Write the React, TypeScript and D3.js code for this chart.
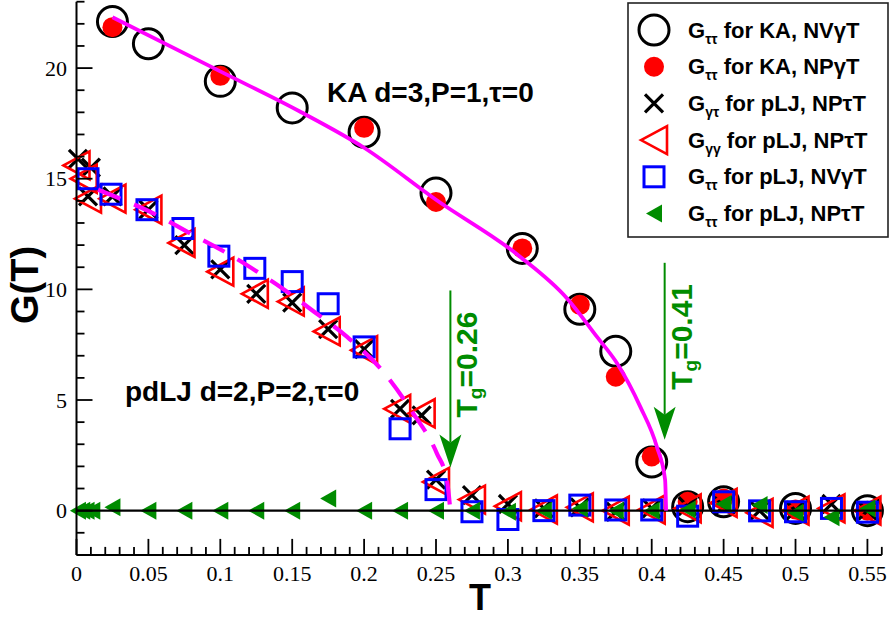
import { useEffect, useRef } from 'react';
import * as d3 from 'd3';

// KA system, G_tautau
const kaNVgT = [[0.025, 22.1], [0.05, 21.1], [0.1, 19.4], [0.15, 18.2], [0.2, 17.1], [0.25, 14.35], [0.31, 11.85], [0.35, 9.1], [0.375, 7.2], [0.4, 2.2], [0.425, 0.18], [0.45, 0.4], [0.5, 0.1], [0.55, 0.0]];
const kaNPgT = [[0.025, 21.85], [0.1, 19.65], [0.2, 17.3], [0.25, 13.95], [0.31, 11.85], [0.35, 9.3], [0.375, 6.05], [0.4, 2.45], [0.425, 0.4], [0.45, 0.55], [0.5, 0.05], [0.55, 0.0]];

// pLJ system
const pljGyt = [[0.001, 15.9], [0.01, 15.5], [0.008, 14.2], [0.025, 14.2], [0.05, 13.6], [0.075, 12.0], [0.1, 10.9], [0.125, 9.8], [0.15, 9.4], [0.175, 8.2], [0.2, 7.3], [0.225, 4.6], [0.24, 4.3], [0.25, 1.4], [0.275, 0.7], [0.3, 0.3], [0.325, 0.1], [0.35, 0.15], [0.375, -0.05], [0.4, 0.1], [0.425, 0.2], [0.45, 0.2], [0.475, 0.0], [0.5, 0.0], [0.525, 0.3], [0.55, 0.0]];
const pljGyy = [[0.0, 15.6], [0.005, 15.0], [0.008, 14.1], [0.025, 14.1], [0.05, 13.6], [0.073, 12.1], [0.1, 10.8], [0.124, 9.8], [0.149, 9.45], [0.174, 8.1], [0.2, 7.25], [0.223, 4.6], [0.24, 4.4], [0.25, 1.3], [0.275, 0.5], [0.3, 0.2], [0.325, 0.05], [0.35, 0.15], [0.375, 0.0], [0.4, 0.05], [0.425, 0.1], [0.45, 0.35], [0.475, -0.1], [0.5, 0.0], [0.525, 0.1], [0.55, 0.0]];
const pljNVgT = [[0.008, 15.0], [0.024, 14.3], [0.049, 13.6], [0.074, 12.75], [0.099, 11.5], [0.124, 10.95], [0.15, 10.35], [0.175, 9.35], [0.2, 7.4], [0.225, 3.7], [0.25, 0.95], [0.275, -0.05], [0.3, -0.4], [0.325, 0.0], [0.35, 0.25], [0.375, 0.03], [0.4, 0.03], [0.425, -0.25], [0.45, 0.4], [0.475, -0.01], [0.5, -0.05], [0.525, 0.1], [0.55, -0.07]];
const pljNPtT = [[0.001, 0.0], [0.004, 0.0], [0.007, 0.0], [0.011, 0.0], [0.025, 0.15], [0.05, 0.0], [0.075, 0.0], [0.1, 0.0], [0.125, 0.0], [0.15, 0.0], [0.175, 0.55], [0.2, 0.0], [0.225, 0.0], [0.25, 0.0], [0.275, 0.0], [0.3, -0.05], [0.325, 0.0], [0.35, 0.1], [0.375, 0.0], [0.4, 0.0], [0.425, 0.05], [0.45, 0.3], [0.475, 0.25], [0.5, -0.1], [0.525, -0.3], [0.55, 0.1]];

// fitted curves
const kaFit = [[0.025, 22.3], [0.1, 19.85], [0.155, 18.05], [0.2, 16.4], [0.25, 14.05], [0.308, 11.5], [0.341, 9.6], [0.362, 7.85], [0.376, 6.65], [0.392, 4.7], [0.4035, 2.9], [0.4093, 1.4], [0.41, 0]];
const pljFit = [[0.015, 14.5], [0.056, 13.35], [0.081, 12.46], [0.107, 11.55], [0.128, 10.7], [0.142, 10.1], [0.165, 9.0], [0.188, 7.86], [0.211, 6.45], [0.234, 4.41], [0.2505, 2.6], [0.2575, 1.39], [0.26, 0]];

// glass transition arrows: T, top G, tip G, label
const tgValues = [0.26, 0.409];
const tgTop = [9.95, 11.2];
const tgTip = [1.95, 3.2];
const tgLabels = ['=0.26', '=0.41'];

const yMajor = [0, 5, 10, 15, 20];
const xMajor = [0, 0.05, 0.1, 0.15, 0.2, 0.25, 0.3, 0.35, 0.4, 0.45, 0.5, 0.55];

const legendSubs = ['ττ', 'ττ', 'γτ', 'γγ', 'ττ', 'ττ'];
const legendTexts = [' for KA, NVγT', ' for KA, NPγT', ' for pLJ, NPτT', ' for pLJ, NPτT', ' for pLJ, NVγT', ' for pLJ, NPτT'];

const GREEN = '#008c00';
const SANS = "'Liberation Sans', Arial, sans-serif";
const SERIF = "'Liberation Serif', 'Times New Roman', serif";

const Chart = () => {
  const svgRef = useRef(null);

  useEffect(() => {
    const svg = d3.select(svgRef.current);
    svg.selectAll('*').remove();

    const x = d3.scaleLinear().domain([0, 0.56]).range([76.5, 881.8]);
    const y = d3.scaleLinear().domain([-2, 23]).range([554.9, 1.7]);

    // symbol drawers
    const drawSym = (sel, kind) => {
      if (kind === 'circle') {
        sel.append('circle').attr('r', 15).attr('fill', 'none').attr('stroke', '#000').attr('stroke-width', 3);
      } else if (kind === 'dot') {
        sel.append('circle').attr('r', 10).attr('fill', '#ff0000');
      } else if (kind === 'x') {
        sel.append('path').attr('d', 'M-9,-9L9,9M-9,9L9,-9').attr('stroke', '#000').attr('stroke-width', 3.2).attr('fill', 'none');
      } else if (kind === 'tri') {
        sel.append('path').attr('d', 'M-13,0L13,-14L13,14Z').attr('stroke', '#ff0000').attr('stroke-width', 2.6).attr('fill', 'none').attr('stroke-linejoin', 'miter');
      } else if (kind === 'sq') {
        sel.append('rect').attr('x', -10).attr('y', -10).attr('width', 20).attr('height', 20).attr('stroke', '#0000ff').attr('stroke-width', 3).attr('fill', 'none');
      } else if (kind === 'gtri') {
        sel.append('path').attr('d', 'M-8,0L8,-9L8,9Z').attr('fill', GREEN);
      }
    };

    const series = [
      [kaNVgT, 'circle'],
      [kaNPgT, 'dot'],
      [pljGyt, 'x'],
      [pljGyy, 'tri'],
      [pljNVgT, 'sq'],
      [pljNPtT, 'gtri'],
    ];

    series.forEach(([data, kind]) => {
      const grp = svg.append('g');
      data.forEach(d => {
        const m = grp.append('g').attr('transform', `translate(${x(d[0])},${y(d[1])})`);
        drawSym(m, kind);
      });
    });

    // zero line
    svg.append('line')
      .attr('x1', x(0)).attr('x2', x(0.56))
      .attr('y1', y(0)).attr('y2', y(0))
      .attr('stroke', '#000').attr('stroke-width', 2.4);

    // fits
    const line = d3.line().x(d => x(d[0])).y(d => y(d[1])).curve(d3.curveMonotoneX);
    svg.append('path').attr('d', line(kaFit)).attr('fill', 'none')
      .attr('stroke', '#ff00ff').attr('stroke-width', 3.8);
    svg.append('path').attr('d', line(pljFit)).attr('fill', 'none')
      .attr('stroke', '#ff00ff').attr('stroke-width', 4.2).attr('stroke-dasharray', '24,15');

    // axes
    const axis = svg.append('g').attr('stroke', '#000');
    axis.append('line').attr('x1', x(0)).attr('x2', x(0)).attr('y1', y(-2)).attr('y2', y(23)).attr('stroke-width', 2);
    axis.append('line').attr('x1', x(0)).attr('x2', x(0.56)).attr('y1', y(-2)).attr('y2', y(-2)).attr('stroke-width', 2);

    d3.range(0, 57).map(i => i / 100).forEach(t => {
      const major = xMajor.some(m => Math.abs(m - t) < 1e-6);
      axis.append('line').attr('x1', x(t)).attr('x2', x(t))
        .attr('y1', y(-2)).attr('y2', y(-2) - (major ? 16 : 8)).attr('stroke-width', 1.8);
    });
    d3.range(-2, 24).forEach(v => {
      const major = yMajor.includes(v);
      axis.append('line').attr('x1', x(0)).attr('x2', x(0) + (major ? 16 : 8))
        .attr('y1', y(v)).attr('y2', y(v)).attr('stroke-width', 1.8);
    });

    const fmt = d3.format('.2~f');
    svg.append('g').selectAll('text').data(xMajor).enter().append('text')
      .attr('x', d => x(d)).attr('y', 581)
      .attr('text-anchor', 'middle').attr('font-family', SERIF).attr('font-size', 22)
      .text(d => fmt(d));
    svg.append('g').selectAll('text').data(yMajor).enter().append('text')
      .attr('x', 67).attr('y', d => y(d) + 7.5)
      .attr('text-anchor', 'end').attr('font-family', SERIF).attr('font-size', 22)
      .text(d => String(d));

    svg.append('text').attr('x', 480).attr('y', 610).attr('text-anchor', 'middle')
      .attr('font-family', SANS).attr('font-weight', 'bold').attr('font-size', 36).text('T');
    svg.append('text').attr('transform', 'translate(38,285) rotate(-90)').attr('text-anchor', 'middle')
      .attr('font-family', SANS).attr('font-weight', 'bold').attr('font-size', 38).text('G(T)');

    // system labels
    svg.append('text').attr('x', 327).attr('y', 102)
      .attr('font-family', SANS).attr('font-weight', 'bold').attr('font-size', 28).text('KA d=3,P=1,τ=0');
    svg.append('text').attr('x', 125).attr('y', 401)
      .attr('font-family', SANS).attr('font-weight', 'bold').attr('font-size', 28).text('pdLJ d=2,P=2,τ=0');

    // Tg arrows
    tgValues.forEach((t, i) => {
      const ax = x(t);
      const top = y(tgTop[i]);
      const tip = y(tgTip[i]);
      svg.append('line').attr('x1', ax).attr('x2', ax).attr('y1', top).attr('y2', tip - 25)
        .attr('stroke', GREEN).attr('stroke-width', 2);
      svg.append('path')
        .attr('d', `M${ax},${tip}L${ax - 11},${tip - 33}L${ax},${tip - 25}L${ax + 11},${tip - 33}Z`)
        .attr('fill', GREEN);
      const lab = svg.append('text')
        .attr('transform', `translate(${ax + 27},${top + 127}) rotate(-90)`)
        .attr('font-family', SANS).attr('font-weight', 'bold').attr('font-size', 30).attr('fill', GREEN);
      lab.append('tspan').text('T');
      lab.append('tspan').attr('dy', 5).attr('font-size', 19).text('g');
      lab.append('tspan').attr('dy', -5).text(tgLabels[i]);
    });

    // legend
    const leg = svg.append('g');
    leg.append('rect').attr('x', 628).attr('y', 3).attr('width', 260).attr('height', 234)
      .attr('fill', '#fff').attr('stroke', '#222').attr('stroke-width', 1.6);
    series.forEach(([, kind], i) => {
      const ry = 30 + i * 36.7;
      const m = leg.append('g').attr('transform', `translate(654,${ry})`);
      drawSym(m, kind);
      const t = leg.append('text').attr('x', 688).attr('y', ry + 7.5)
        .attr('font-family', SANS).attr('font-weight', 'bold').attr('font-size', 22);
      t.append('tspan').text('G');
      t.append('tspan').attr('dy', 6).attr('font-size', 14).text(legendSubs[i]);
      t.append('tspan').attr('dy', -6).text(legendTexts[i]);
    });
  }, []);

  return (
    <svg ref={svgRef} width={891} height={617}
      style={{ position: 'absolute', left: 0, top: 0, background: '#fff' }} />
  );
};

export default function App() {
  return <Chart />;
}
